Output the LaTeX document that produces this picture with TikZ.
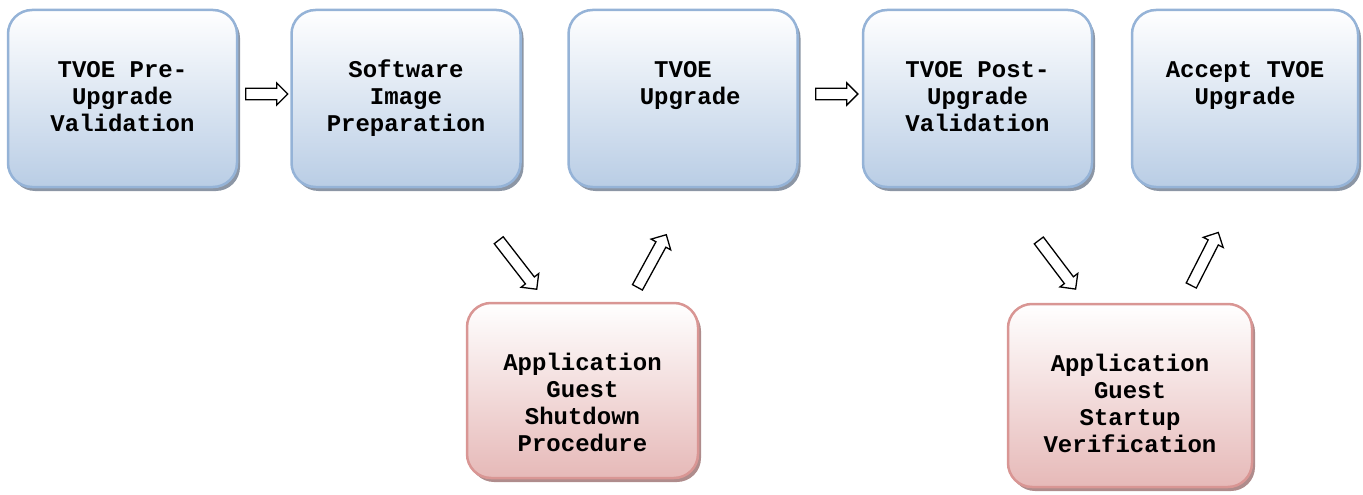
\documentclass[tikz,border=0pt]{standalone}
\usepackage{fontspec}
\setmainfont{Liberation Mono}
\usetikzlibrary{shapes.arrows,shadows}
\definecolor{bluebd}{RGB}{149,179,215}
\definecolor{bluebot}{RGB}{185,205,229}
\definecolor{blueshd}{RGB}{140,150,165}
\definecolor{redbd}{RGB}{217,150,148}
\definecolor{redbot}{RGB}{230,185,184}
\definecolor{redshd}{RGB}{175,140,140}
\newcommand{\boxtext}[3]{\begin{minipage}[c][#2][t]{#1}\centering\fontsize{24}{27}\selectfont\bfseries\rule{0pt}{67pt}#3\end{minipage}}
\tikzset{
  bluebox/.style={rectangle, rounded corners=24pt, draw=bluebd, line width=2.5pt, top color=white, bottom color=bluebot, inner sep=0pt, outer sep=0pt, drop shadow={shadow xshift=3pt, shadow yshift=-4pt, fill=blueshd, opacity=1}},
  redbox/.style={rectangle, rounded corners=24pt, draw=redbd, line width=2.5pt, top color=white, bottom color=redbot, inner sep=0pt, outer sep=0pt, drop shadow={shadow xshift=3pt, shadow yshift=-4pt, fill=redshd, opacity=1}},
  blockarrow/.style={single arrow, draw=black, fill=white, line width=1.3pt, minimum width=0pt, single arrow head extend=5.5pt, single arrow tip angle=90, inner xsep=0pt, inner ysep=5pt, outer sep=0pt}
}
\begin{document}
\begin{tikzpicture}[x=1pt,y=-1pt]
\useasboundingbox (0,0) rectangle (1363,495);
\node[bluebox] (b1) at (122.5,98.5) {\boxtext{229pt}{177pt}{TVOE Pre-\\Upgrade\\Validation}};
\node[bluebox] (b2) at (406,98.5) {\boxtext{229pt}{177pt}{Software\\Image\\Preparation}};
\node[bluebox] (b3) at (683,98.5) {\boxtext{229pt}{177pt}{TVOE\\\hphantom{x}Upgrade}};
\node[bluebox] (b4) at (977.5,98.5) {\boxtext{229pt}{177pt}{TVOE Post-\\Upgrade\\Validation}};
\node[bluebox] (b5) at (1245,98.5) {\boxtext{226pt}{177pt}{Accept TVOE\\Upgrade}};
\node[redbox] (r1) at (582.5,390.5) {\boxtext{231pt}{175pt}{Application\\Guest\\Shutdown\\Procedure}};
\node[redbox] (r2) at (1130,395.5) {\boxtext{244pt}{183pt}{Application\\Guest\\Startup\\Verification}};
\node[blockarrow, minimum height=42pt] (a1) at (264,94) {};
\node[blockarrow, minimum height=42pt] (a2) at (834,94) {};
\node[blockarrow, minimum height=62pt, rotate=-52.2] (a3) at (516,262.5) {};
\node[blockarrow, minimum height=60pt, rotate=61.3] (a4) at (650.5,263.5) {};
\node[blockarrow, minimum height=61pt, rotate=-52.9] (a5) at (1055.5,262.5) {};
\node[blockarrow, minimum height=59.5pt, rotate=63] (a6) at (1203.5,261.5) {};
\end{tikzpicture}
\end{document}
